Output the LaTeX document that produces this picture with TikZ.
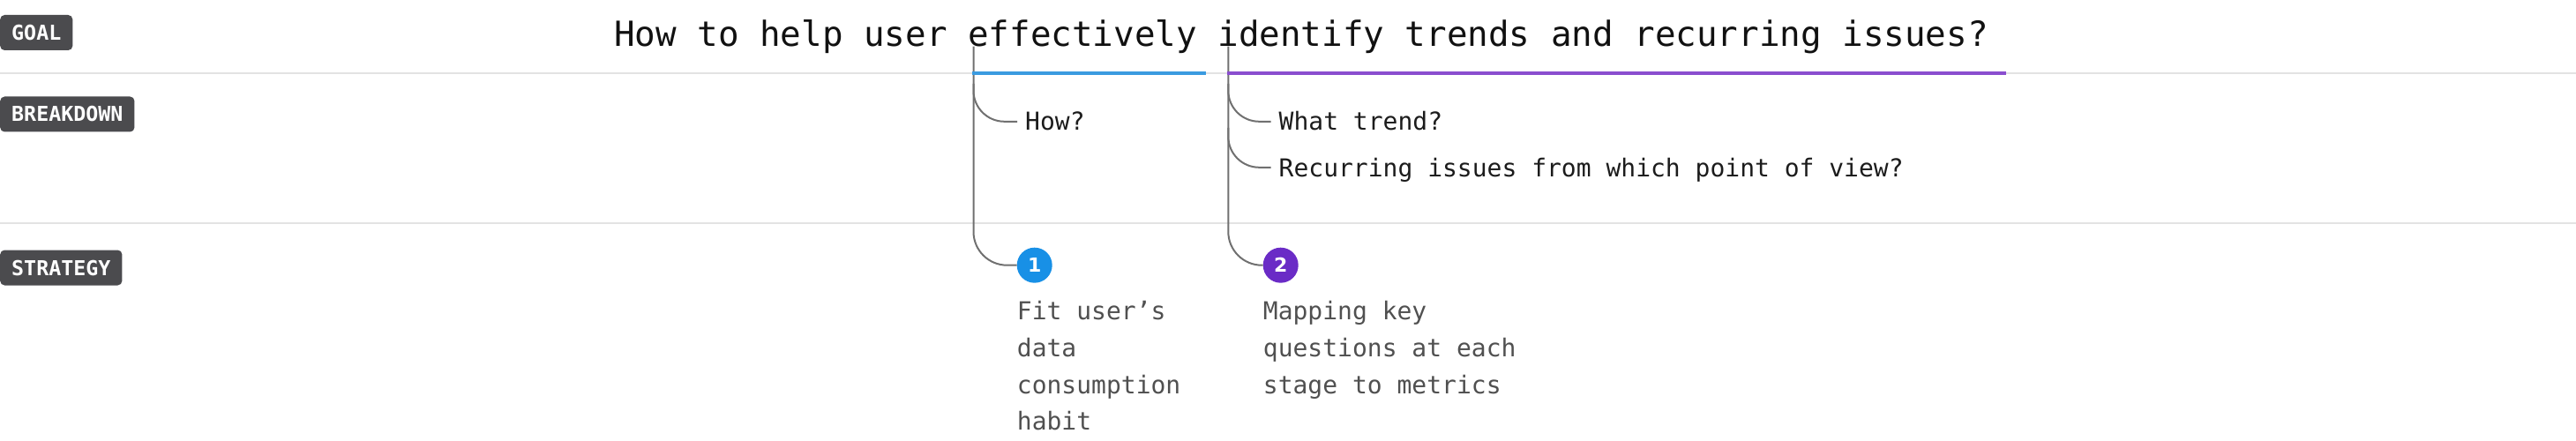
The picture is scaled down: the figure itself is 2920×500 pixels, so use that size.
\documentclass[tikz,border=0pt]{standalone}
\usepackage{fontspec}
\setmainfont{DejaVu Sans}
\newfontfamily\monofont{DejaVu Sans Mono}
\definecolor{tagbg}{HTML}{4B4B4E}
\definecolor{sepc}{HTML}{E3E3E3}
\definecolor{connc}{HTML}{707070}
\definecolor{blueline}{HTML}{3B9BE0}
\definecolor{purpleline}{HTML}{8A4ECF}
\definecolor{bluedot}{HTML}{1890E6}
\definecolor{purpledot}{HTML}{6A2BC6}
\definecolor{titlec}{HTML}{111111}
\definecolor{bdc}{HTML}{1C1C1C}
\definecolor{stc}{HTML}{505050}
\begin{document}
\begin{tikzpicture}[x=1pt,y=-1pt,
  tag/.style={fill=tagbg, rounded corners=5pt, text=white, anchor=west,
    font=\monofont\bfseries\fontsize{23.3}{28}\selectfont,
    inner xsep=13pt, inner ysep=11.5pt, text height=17pt, text depth=0pt},
  titletext/.style={text=titlec, inner sep=0pt, font=\monofont\fontsize{39.2}{47}\selectfont},
  bdtext/.style={text=bdc, inner xsep=9pt, inner ysep=0pt, text height=20.4pt, text depth=0pt,
    anchor=base west, font=\monofont\fontsize{28}{34}\selectfont},
  sttext/.style={text=stc, inner sep=0pt, anchor=north west, align=left,
    font=\monofont\fontsize{28}{41.7}\selectfont},
  dot/.style={circle, minimum size=40pt, inner sep=0pt, text=white,
    font=\bfseries\fontsize{22}{26}\selectfont},
  sep/.style={draw=sepc, line width=2pt},
  conn/.style={draw=connc, line width=2pt},
  uline/.style={line width=4pt}
]
\useasboundingbox (0,0) rectangle (2920,500);

% separators
\draw[sep] (0,82.7) -- (2920,82.7);
\draw[sep] (0,252.7) -- (2920,252.7);

% tags
\node[tag] (tgoal) at (0,37) {GOAL};
\node[tag] (tbreak) at (0,129.5) {BREAKDOWN};
\node[tag] (tstrat) at (0,303.5) {STRATEGY};

% goal
\node[titletext, anchor=base west] (goal) at (696,53) {How to help user effectively identify trends and recurring issues?};

% breakdown texts
\node[bdtext] (how) at (1153,148) {How?};
\node[bdtext] (what) at (1440.5,148) {What trend?};
\node[bdtext] (recur) at (1440.5,200) {Recurring issues from which point of view?};

% strategy dots
\node[dot, fill=bluedot] (c1) at (1172.7,300.7) {1};
\node[dot, fill=purpledot] (c2) at (1451.7,300.7) {2};

% strategy texts
\node[sttext] (s1) at (1152.7,341.3) {Fit user’s\\data\\consumption\\habit};
\node[sttext] (s2) at (1431.7,341.3) {Mapping key\\questions at each\\stage to metrics};

% connectors
\coordinate (v1) at (1103.5,52.7);
\coordinate (v2) at (1392.3,52.7);
\coordinate (b1) at (1103.5,95);
\coordinate (b2) at (1392.3,95);
\coordinate (b3) at (1392.3,145);
\draw[conn, rounded corners=38pt] (v1) |- (c1.west);
\draw[conn, rounded corners=38pt] (v2) |- (c2.west);
\draw[conn, rounded corners=35pt] (b1) |- (how.west);
\draw[conn, rounded corners=35pt] (b2) |- (what.west);
\draw[conn, rounded corners=35pt] (b3) |- (recur.west);

% underlines
\draw[uline, blueline] (1102,82.7) -- (1367,82.7);
\draw[uline, purpleline] (1391,82.7) -- (2274,82.7);
\end{tikzpicture}
\end{document}
